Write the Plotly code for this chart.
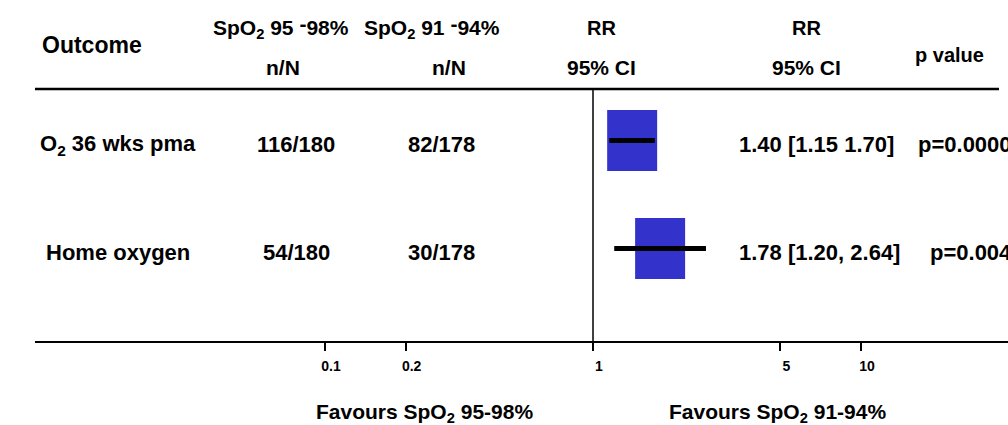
import plotly.graph_objects as go

# ---- data ----
outcomes = ["O<sub>2</sub> 36 wks pma", "Home oxygen"]
events_high = ["116/180", "54/180"]      # SpO2 95-98% arm, n/N
events_low = ["82/178", "30/178"]        # SpO2 91-94% arm, n/N
rr = [1.40, 1.78]
ci_low = [1.15, 1.20]
ci_high = [1.70, 2.64]
rr_labels = ["1.40 [1.15 1.70]", "1.78 [1.20, 2.64]"]
p_labels = ["p=0.0000", "p=0.004"]
rows = [2, 1]                            # y position of each outcome row
tick_vals = [0.1, 0.2, 1, 5, 10]
tick_text = ["0.1", "0.2", "1", "5", "10"]

# ---- geometry (pixels) ----
W, H = 1008, 425
PLOT_L, PLOT_R, PLOT_T, PLOT_B = 35, 1008, 89, 341
NULL_PX = 593            # where RR = 1 sits
PX_PER_DECADE = 268
ROW_PX = 108             # vertical spacing between rows
ROW1_PX, ROW2_PX = 140.5, 248.5
BOX_HALF_W_PX, BOX_HALF_H_PX = 25, 30.5
P_TEXT_X = [916, 928]    # left edge of the p-value text in each row

FONT = "Liberation Sans, Arial, sans-serif"
BLUE = "#3333CC"
RAISED_DASH = '<span style="baseline-shift:4px">-</span>'


def px_x(px):
    return px / W


def px_y(py):
    return 1 - py / H


x_range = [-(NULL_PX - PLOT_L) / PX_PER_DECADE, (PLOT_R - NULL_PX) / PX_PER_DECADE]
y_range = [1 - (PLOT_B - ROW2_PX) / ROW_PX, 2 + (ROW1_PX - PLOT_T) / ROW_PX]
box_fac = 10 ** (BOX_HALF_W_PX / PX_PER_DECADE)
box_h = BOX_HALF_H_PX / ROW_PX

fig = go.Figure()

for r, lo, hi, y in zip(rr, ci_low, ci_high, rows):
    # weight box around the point estimate
    fig.add_trace(go.Scatter(
        x=[r / box_fac, r * box_fac, r * box_fac, r / box_fac, r / box_fac],
        y=[y - box_h, y - box_h, y + box_h, y + box_h, y - box_h],
        mode="lines", fill="toself", fillcolor=BLUE,
        line=dict(width=0, color=BLUE), hoverinfo="skip", showlegend=False,
    ))
    # confidence interval
    fig.add_trace(go.Scatter(
        x=[lo, hi], y=[y, y], mode="lines",
        line=dict(color="black", width=5), hoverinfo="skip", showlegend=False,
    ))

annotations = []


def add_text(text, x, y, size, xanchor="center", xref="paper", yref="paper", yshift=0):
    annotations.append(dict(
        text=f"<b>{text}</b>", x=x, y=y, xref=xref, yref=yref,
        xanchor=xanchor, yanchor="middle", showarrow=False, yshift=yshift,
        font=dict(family=FONT, size=size, color="black"),
    ))


# column headers
add_text("Outcome", px_x(92), px_y(45), 23)
add_text(f"SpO<sub>2</sub> 95 {RAISED_DASH}98%", px_x(281), px_y(27), 21)
add_text("n/N", px_x(283), px_y(67), 21)
add_text(f"SpO<sub>2</sub> 91 {RAISED_DASH}94%", px_x(432), px_y(27), 21)
add_text("n/N", px_x(449), px_y(67), 21)
add_text("RR", px_x(601), px_y(28), 20)
add_text("95% CI", px_x(601), px_y(67), 21)
add_text("RR", px_x(806), px_y(28), 20)
add_text("95% CI", px_x(806), px_y(67), 21)
add_text("p value", px_x(949), px_y(55), 20)

# rows
for name, eh, el, lab, p, px_p, y in zip(outcomes, events_high, events_low,
                                          rr_labels, p_labels, P_TEXT_X, rows):
    add_text(name, px_x(118), y, 22, yref="y", yshift=-4)
    add_text(eh, px_x(296), y, 22, yref="y", yshift=-4)
    add_text(el, px_x(441), y, 22, yref="y", yshift=-4)
    add_text(lab, px_x(737), y, 22, xanchor="left", yref="y", yshift=-4)
    add_text(p, px_x(px_p), y, 22, xanchor="left", yref="y", yshift=-4)

# favours labels
add_text("Favours SpO<sub>2</sub> 95-98%", px_x(424), px_y(413), 21)
add_text("Favours SpO<sub>2</sub> 91-94%", px_x(777), px_y(413), 21)

fig.update_layout(
    width=W, height=H,
    margin=dict(l=0, r=0, t=0, b=0),
    paper_bgcolor="white", plot_bgcolor="white",
    showlegend=False,
    annotations=annotations,
    shapes=[
        # header rule
        dict(type="line", xref="paper", yref="paper",
             x0=px_x(PLOT_L), x1=px_x(999), y0=px_y(PLOT_T), y1=px_y(PLOT_T),
             line=dict(color="black", width=2.5)),
        # line of no effect
        dict(type="line", xref="x", yref="y domain", x0=1, x1=1, y0=0, y1=1,
             line=dict(color="black", width=1.5)),
    ],
    xaxis=dict(
        type="log", range=x_range,
        domain=[px_x(PLOT_L), px_x(PLOT_R)],
        showgrid=False, zeroline=False,
        showline=True, linecolor="black", linewidth=2,
        ticks="outside", ticklen=8, tickwidth=1.5, tickcolor="black",
        tickvals=tick_vals, ticktext=[f"<b>{t}</b>" for t in tick_text],
        tickfont=dict(family=FONT, size=14, color="black"),
        ticklabelstandoff=3, ticklabelshift=6,
        fixedrange=True,
    ),
    yaxis=dict(
        range=y_range, domain=[px_y(PLOT_B), px_y(PLOT_T)],
        visible=False, fixedrange=True,
    ),
)

fig.write_html("out.html")
